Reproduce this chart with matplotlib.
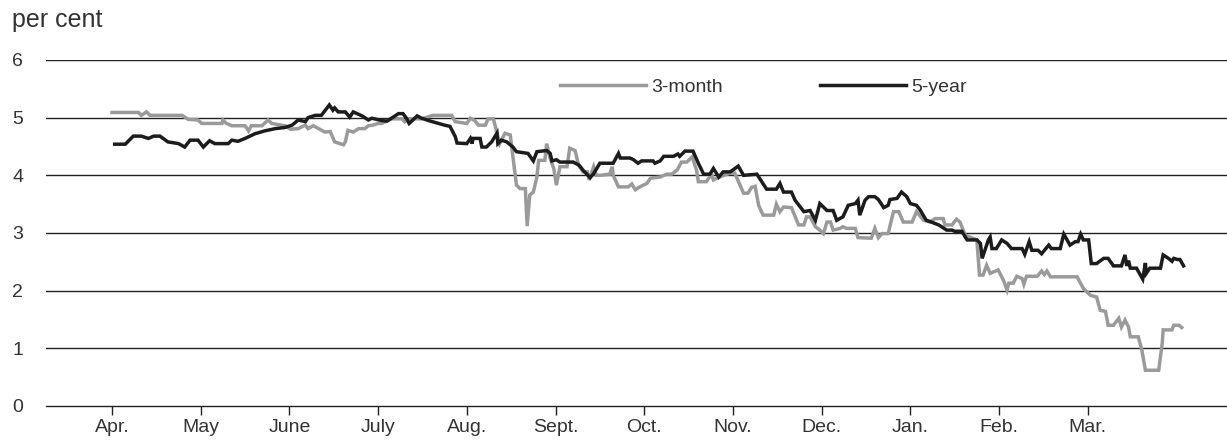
import matplotlib
matplotlib.use("Agg")
import matplotlib.pyplot as plt

# ---- data (x = months since start of April, equal-width months) ----
month_labels = ["Apr.", "May", "June", "July", "Aug.", "Sept.", "Oct.", "Nov.",
                "Dec.", "Jan.", "Feb.", "Mar."]

five_year_x = [0.03, 0.15, 0.24, 0.33, 0.41, 0.47, 0.54, 0.63, 0.75, 0.82, 0.88, 0.97,
               1.03, 1.10, 1.16, 1.31, 1.35, 1.42, 1.50, 1.61, 1.72, 1.84, 1.95, 2.03,
               2.10, 2.18, 2.21, 2.29, 2.36, 2.45, 2.49, 2.51, 2.55, 2.63, 2.68, 2.72,
               2.82, 2.89, 2.93, 3.04, 3.10, 3.15, 3.23, 3.28, 3.32, 3.35, 3.44, 3.49,
               3.59, 3.75, 3.81, 3.87, 3.89, 4.00, 4.04, 4.06, 4.07, 4.15, 4.17, 4.22,
               4.28, 4.34, 4.35, 4.39, 4.45, 4.52, 4.56, 4.69, 4.75, 4.79, 4.90, 4.94,
               4.96, 5.01, 5.05, 5.20, 5.26, 5.28, 5.31, 5.39, 5.43, 5.50, 5.65, 5.71,
               5.73, 5.84, 5.88, 5.93, 5.97, 6.10, 6.12, 6.18, 6.22, 6.33, 6.38, 6.40,
               6.46, 6.55, 6.61, 6.67, 6.74, 6.78, 6.82, 6.84, 6.89, 6.97, 7.06, 7.12,
               7.27, 7.38, 7.49, 7.53, 7.57, 7.66, 7.70, 7.76, 7.80, 7.87, 7.93, 7.98,
               8.06, 8.13, 8.17, 8.24, 8.30, 8.38, 8.41, 8.43, 8.49, 8.53, 8.60, 8.64,
               8.70, 8.75, 8.77, 8.85, 8.90, 8.96, 9.00, 9.07, 9.11, 9.18, 9.22, 9.32,
               9.37, 9.41, 9.47, 9.50, 9.58, 9.64, 9.75, 9.79, 9.81, 9.86, 9.88, 9.90,
               9.92, 9.97, 10.03, 10.09, 10.14, 10.26, 10.29, 10.34, 10.37, 10.44, 10.48,
               10.56, 10.59, 10.69, 10.73, 10.80, 10.86, 10.89, 10.92, 10.95, 11.01,
               11.04, 11.10, 11.18, 11.23, 11.29, 11.38, 11.42, 11.44, 11.46, 11.48,
               11.55, 11.62, 11.65, 11.66, 11.70, 11.82, 11.85, 11.91, 11.95, 11.97,
               12.01, 12.04, 12.08]
five_year = [4.54, 4.54, 4.68, 4.68, 4.64, 4.68, 4.68, 4.58, 4.55, 4.49, 4.61, 4.61,
             4.49, 4.60, 4.55, 4.55, 4.61, 4.59, 4.64, 4.72, 4.77, 4.81, 4.83, 4.87,
             4.96, 4.93, 5.00, 5.04, 5.04, 5.22, 5.13, 5.17, 5.10, 5.10, 5.01, 5.10,
             5.03, 4.96, 4.99, 4.95, 4.94, 4.99, 5.07, 5.07, 4.99, 4.90, 5.03, 4.99,
             4.94, 4.87, 4.85, 4.67, 4.56, 4.55, 4.64, 4.55, 4.64, 4.64, 4.49, 4.49,
             4.58, 4.73, 4.55, 4.61, 4.58, 4.49, 4.41, 4.38, 4.25, 4.41, 4.43, 4.38,
             4.25, 4.27, 4.23, 4.23, 4.18, 4.15, 4.09, 3.96, 4.03, 4.21, 4.21, 4.38,
             4.30, 4.30, 4.27, 4.21, 4.25, 4.25, 4.21, 4.25, 4.33, 4.33, 4.37, 4.33,
             4.42, 4.42, 4.21, 4.02, 4.02, 4.12, 4.02, 3.97, 4.06, 4.06, 4.16, 4.00,
             4.02, 3.76, 3.76, 3.86, 3.71, 3.71, 3.57, 3.45, 3.37, 3.39, 3.22, 3.51,
             3.39, 3.39, 3.22, 3.28, 3.48, 3.51, 3.57, 3.31, 3.57, 3.63, 3.63, 3.58,
             3.44, 3.48, 3.58, 3.60, 3.71, 3.63, 3.51, 3.48, 3.40, 3.22, 3.20, 3.14,
             3.09, 3.05, 3.05, 3.03, 3.03, 2.88, 2.88, 2.82, 2.56, 2.79, 2.88, 2.93,
             2.73, 2.73, 2.88, 2.82, 2.73, 2.73, 2.63, 2.85, 2.70, 2.70, 2.64,
             2.79, 2.73, 2.73, 2.98, 2.79, 2.85, 2.85, 2.98, 2.88, 2.88,
             2.47, 2.47, 2.56, 2.56, 2.43, 2.43, 2.62, 2.43, 2.52, 2.39,
             2.39, 2.20, 2.48, 2.30, 2.39, 2.39, 2.62, 2.56, 2.51, 2.56,
             2.54, 2.54, 2.43]

three_month_x = [0.00, 0.30, 0.33, 0.39, 0.43, 0.79, 0.86, 0.97, 1.01, 1.24, 1.25, 1.29,
                 1.35, 1.50, 1.54, 1.57, 1.69, 1.76, 1.80, 1.95, 2.01, 2.10, 2.18, 2.21,
                 2.27, 2.33, 2.40, 2.46, 2.51, 2.61, 2.63, 2.66, 2.72, 2.78, 2.85, 2.89,
                 2.94, 3.00, 3.04, 3.08, 3.15, 3.27, 3.30, 3.34, 3.49, 3.62, 3.83, 3.87,
                 4.00, 4.04, 4.09, 4.13, 4.21, 4.24, 4.30, 4.34, 4.37, 4.43, 4.49, 4.52,
                 4.56, 4.60, 4.66, 4.68, 4.71, 4.75, 4.79, 4.81, 4.88, 4.90, 4.94, 4.98,
                 5.01, 5.05, 5.13, 5.16, 5.22, 5.26, 5.31, 5.36, 5.38, 5.43, 5.46, 5.50,
                 5.61, 5.64, 5.65, 5.71, 5.82, 5.86, 5.90, 5.95, 6.03, 6.07, 6.18, 6.25,
                 6.31, 6.37, 6.42, 6.48, 6.54, 6.59, 6.61, 6.70, 6.76, 6.78, 6.85, 6.97,
                 7.02, 7.08, 7.12, 7.17, 7.21, 7.25, 7.29, 7.34, 7.46, 7.49, 7.53, 7.57,
                 7.66, 7.74, 7.80, 7.83, 7.87, 7.93, 7.98, 8.02, 8.06, 8.10, 8.13, 8.21,
                 8.24, 8.28, 8.38, 8.41, 8.56, 8.60, 8.64, 8.68, 8.75, 8.81, 8.87, 8.92,
                 9.02, 9.07, 9.15, 9.22, 9.28, 9.37, 9.39, 9.47, 9.52, 9.56, 9.62, 9.75,
                 9.78, 9.82, 9.86, 9.90, 9.99, 10.05, 10.09, 10.11, 10.16, 10.20, 10.26,
                 10.28, 10.31, 10.43, 10.48, 10.51, 10.54, 10.58, 10.88, 10.95, 11.03,
                 11.10, 11.14, 11.20, 11.23, 11.29, 11.35, 11.38, 11.42, 11.46, 11.48,
                 11.57, 11.61, 11.65, 11.80, 11.84, 11.85, 11.95, 11.97, 12.03, 12.06]
three_month = [5.09, 5.09, 5.04, 5.10, 5.04, 5.04, 4.97, 4.96, 4.90, 4.90, 4.96, 4.90,
               4.86, 4.86, 4.77, 4.86, 4.86, 4.96, 4.90, 4.86, 4.80, 4.81, 4.87, 4.81,
               4.86, 4.81, 4.75, 4.76, 4.58, 4.53, 4.58, 4.78, 4.75, 4.81, 4.81, 4.86,
               4.87, 4.90, 4.90, 4.93, 4.98, 4.98, 4.93, 4.98, 4.98, 5.04, 5.04, 4.93,
               4.90, 4.99, 4.95, 4.87, 4.87, 4.98, 4.98, 4.73, 4.55, 4.73, 4.70, 4.32,
               3.83, 3.77, 3.77, 3.12, 3.66, 3.71, 3.97, 4.26, 4.26, 4.55, 4.29, 4.12,
               3.83, 4.15, 4.15, 4.47, 4.43, 4.18, 4.06, 4.06, 3.92, 4.15, 4.00, 4.00,
               4.02, 4.15, 4.00, 3.80, 3.80, 3.85, 3.75, 3.80, 3.86, 3.95, 3.97, 4.02,
               4.02, 4.09, 4.23, 4.23, 4.32, 4.09, 3.89, 3.89, 4.02, 3.92, 3.97, 4.04,
               4.04, 3.83, 3.69, 3.69, 3.79, 3.81, 3.48, 3.31, 3.31, 3.50, 3.37, 3.45,
               3.44, 3.14, 3.14, 3.28, 3.28, 3.11, 3.05, 2.99, 3.19, 3.19, 3.05, 3.08,
               3.11, 3.08, 3.08, 2.92, 2.91, 3.08, 2.92, 2.99, 2.99, 3.37, 3.37, 3.19,
               3.19, 3.37, 3.22, 3.19, 3.25, 3.25, 3.14, 3.14, 3.24, 3.19, 2.96, 2.88,
               2.27, 2.27, 2.44, 2.30, 2.36, 2.18, 2.01, 2.13, 2.13, 2.25, 2.21,
               2.11, 2.25, 2.25, 2.34, 2.28, 2.34, 2.24, 2.24, 2.04, 1.92,
               1.89, 1.66, 1.64, 1.40, 1.40, 1.52, 1.37, 1.49, 1.37, 1.20,
               1.20, 0.97, 0.62, 0.62, 1.09, 1.32, 1.32, 1.40, 1.40, 1.36]

series_names = ["3-month", "5-year"]
y_ticks = [0, 1, 2, 3, 4, 5, 6]

# ---- styling ----
TEXT = "#333333"
GRAY = "#9a9a9a"
BLACK = "#1c1c1c"
plt.rcParams["font.family"] = ["Liberation Sans", "DejaVu Sans"]

W, H = 1227, 442
fig = plt.figure(figsize=(W / 100, H / 100), dpi=100)
ax = fig.add_axes([46 / W, 1 - 406 / H, 1 - 46 / W, (406 - 60) / H])

ax.set_ylim(0, 6)
ax.set_xlim(-0.744, 12.57)

for v in y_ticks[1:]:
    ax.axhline(v, color="#222222", lw=1.0, zorder=1)

l1, = ax.plot(three_month_x, three_month, color=GRAY, lw=2.5, zorder=3,
              solid_joinstyle="miter")
l2, = ax.plot(five_year_x, five_year, color=BLACK, lw=2.5, zorder=4,
              solid_joinstyle="miter")

for s in ["top", "right", "left"]:
    ax.spines[s].set_visible(False)
ax.spines["bottom"].set_color("#222222")
ax.spines["bottom"].set_linewidth(1.0)

ax.set_xticks(range(len(month_labels)))
ax.set_xticklabels(month_labels)
ax.tick_params(axis="x", length=6.5, width=1.0, color="#222222", pad=3,
               labelsize=14, labelcolor=TEXT)
ax.set_yticks(y_ticks)
ax.tick_params(axis="y", length=0, pad=16.5, labelsize=14, labelcolor=TEXT)

fig.text(12 / W, 1 - 27 / H, "per cent", fontsize=18, color=TEXT,
         ha="left", va="baseline")

leg = ax.legend([l1, l2], series_names, ncol=2, frameon=False,
                loc="center left", bbox_to_anchor=(560 / W, 1 - 87 / H),
                bbox_transform=fig.transFigure, borderaxespad=0, borderpad=0,
                handlelength=4.4, handletextpad=0.3, columnspacing=5.0,
                fontsize=14, labelcolor=TEXT)

fig.savefig("out.png", dpi=100)
